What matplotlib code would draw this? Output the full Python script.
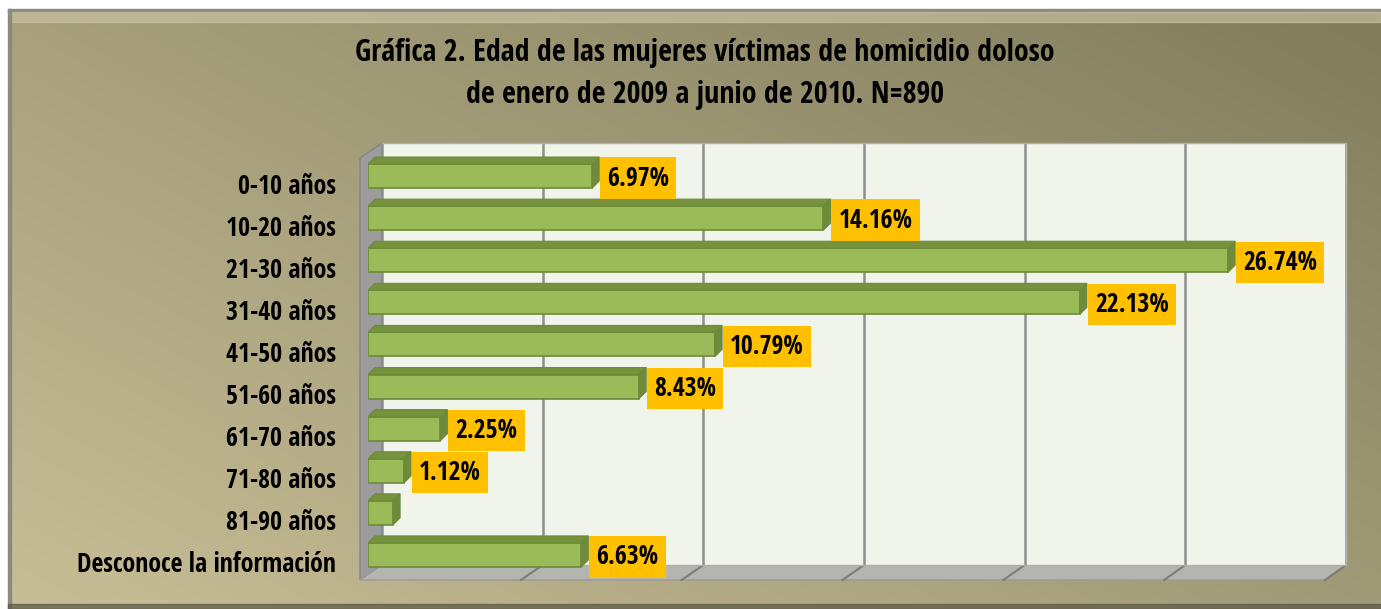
import numpy as np
import matplotlib
matplotlib.use("Agg")
import matplotlib.pyplot as plt
from matplotlib import font_manager
from matplotlib.font_manager import FontProperties
from matplotlib.patches import Polygon, Rectangle

categories = ["0-10 años", "10-20 años", "21-30 años", "31-40 años", "41-50 años",
              "51-60 años", "61-70 años", "71-80 años", "81-90 años", "Desconoce la información"]
values = [6.97, 14.16, 26.74, 22.13, 10.79, 8.43, 2.25, 1.12, 0.78, 6.63]
show_label = [True, True, True, True, True, True, True, True, False, True]
title_lines = ["Gráfica 2. Edad de las mujeres víctimas de homicidio doloso",
               "de enero de 2009 a junio de 2010. N=890"]


# ---- pick a bold, preferably condensed, font file ----
def _wt(f):
    w = f.weight
    if isinstance(w, str):
        return 700 if "bold" in w.lower() else 400
    return int(w)


def pick_font():
    entries = font_manager.fontManager.ttflist
    tests = [
        lambda f: f.name == "Liberation Sans Narrow" and _wt(f) >= 700 and f.style == "normal",
        lambda f: "Condensed" in f.name and _wt(f) >= 700 and f.style == "normal"
        and any(k in f.name for k in ("Roboto", "Open Sans", "Noto Sans", "DejaVu Sans")),
        lambda f: f.stretch in ("condensed", "semi-condensed") and _wt(f) >= 700
        and f.style == "normal" and f.name in ("DejaVu Sans", "Roboto", "Open Sans", "Noto Sans"),
        lambda f: f.name == "Liberation Sans" and _wt(f) >= 700 and f.style == "normal",
    ]
    for tst in tests:
        for f in entries:
            try:
                if tst(f):
                    return f.fname
            except Exception:
                pass
    return None


FONT_FILE = pick_font()

W, H = 1381, 609
fig = plt.figure(figsize=(W / 100, H / 100), dpi=100)
fig.patch.set_facecolor("white")
renderer = fig.canvas.get_renderer()


def fprop(size):
    if FONT_FILE:
        return FontProperties(fname=FONT_FILE, size=size)
    return FontProperties(family="DejaVu Sans", weight="bold", size=size)


def fit_size(sample, target_px, max_size):
    p = fprop(10)
    w, _, _ = renderer.get_text_width_height_descent(sample, p, ismath=False)
    return min(max_size, 10 * target_px / w)


cat_size = fit_size("0-10 años", 98, 18.8)
lab_size = fit_size("26.74%", 74, 21.5)
title_size = fit_size(title_lines[0], 750, 21.5)

# ---- background (pixel coordinates) ----
bg = fig.add_axes([0, 0, 1, 1])
bg.set_xlim(0, W)
bg.set_ylim(H, 0)
bg.axis("off")
x0f, y0f = 8, 9
yy, xx = np.mgrid[0:1:200j, 0:1:400j]
t = 0.55 * xx + 0.45 * (1 - yy)
c1 = np.array([200, 190, 150]) / 255
c2 = np.array([128, 124, 92]) / 255
img = c1[None, None, :] * (1 - t[..., None]) + c2[None, None, :] * t[..., None]
bg.imshow(img, extent=(x0f, W, H, y0f), aspect="auto", zorder=0)
bg.add_patch(Rectangle((x0f, y0f), W - x0f, 3, color="#8a8a80", zorder=1))
bg.add_patch(Rectangle((x0f, y0f + 3), W - x0f, 10, color="#cfc8a6", alpha=0.6, zorder=1))
bg.add_patch(Rectangle((x0f, y0f), 3, H - y0f, color="#8a8a80", zorder=1))
bg.add_patch(Rectangle((x0f, H - 5), W - x0f, 5, color="#5a5644", alpha=0.7, zorder=1))

# ---- 3D walls ----
front_x0, front_x1, front_y = 360, 1325, 580
back_x0, back_x1, back_top, back_bot = 382, 1346, 143, 565
bg.add_patch(Polygon([(front_x0, 158), (back_x0, back_top), (back_x0, back_bot), (front_x0, front_y)],
                     closed=True, fc="#9c9c9c", ec="#858585", lw=1, zorder=2))
bg.add_patch(Polygon([(front_x0, front_y), (back_x0, back_bot), (back_x1, back_bot), (front_x1, front_y)],
                     closed=True, fc="#b3b5ae", ec="#9a9a9a", lw=1, zorder=2))

wall = fig.add_axes([back_x0 / W, (H - back_bot) / H, (back_x1 - back_x0) / W, (back_bot - back_top) / H])
wall.set_facecolor("#f1f4ea")
wall.set_xlim(0, 30)
wall.set_ylim(0, 1)
wall.set_xticks(np.arange(0, 31, 5))
wall.set_yticks([])
wall.tick_params(length=0, labelbottom=False)
wall.grid(axis="x", color="#8e8e8e", lw=1.8)
for s in wall.spines.values():
    s.set_color("#b0b0b0")
    s.set_linewidth(1)
wall.spines["left"].set_visible(False)

sx_front = (front_x1 - front_x0) / 30
sx_back = (back_x1 - back_x0) / 30
for v in np.arange(5, 31, 5):
    bg.plot([front_x0 + v * sx_front, back_x0 + v * sx_back], [front_y, back_bot],
            color="#7c7c7c", lw=1.5, zorder=3)

# ---- bars ----
ax = fig.add_axes([368 / W, (H - 576) / H, 965 / W, 421 / H])
ax.patch.set_alpha(0)
ax.set_xlim(0, 30)
ax.set_ylim(len(categories) - 0.5, -0.5)
ax.axis("off")

px_x = 965 / 30
px_y = 421 / len(categories)
dx = 7 / px_x
dy = 7 / px_y
h = 0.57
front_c, top_c, side_c, edge_c = "#9bbb59", "#76923c", "#6e8a3a", "#6d8a38"

for i, (cat, v, show) in enumerate(zip(categories, values, show_label)):
    ax.barh(i, v, height=h, color=front_c, edgecolor=edge_c, lw=1.2, zorder=3)
    top = [(0, i - h / 2), (v, i - h / 2), (v + dx, i - h / 2 - dy), (dx, i - h / 2 - dy)]
    side = [(v, i - h / 2), (v + dx, i - h / 2 - dy), (v + dx, i + h / 2 - dy), (v, i + h / 2)]
    ax.add_patch(Polygon(top, closed=True, fc=top_c, ec=edge_c, lw=0.8, zorder=3))
    ax.add_patch(Polygon(side, closed=True, fc=side_c, ec=edge_c, lw=0.8, zorder=3))
    if show:
        ax.annotate(f"{v:.2f}%", xy=(v + dx, i), xytext=(8, 1), textcoords="offset pixels",
                    ha="left", va="center_baseline", fontproperties=fprop(lab_size),
                    color="black", zorder=5,
                    bbox=dict(boxstyle="square,pad=0.28", fc="#ffc000", ec="none"))
    ax.annotate(cat, xy=(0, i), xytext=(-32, -7), textcoords="offset pixels",
                ha="right", va="center_baseline", fontproperties=fprop(cat_size),
                color="black", annotation_clip=False)

fig.text(705 / W, 1 - 50 / H, title_lines[0], ha="center", va="center_baseline",
         fontproperties=fprop(title_size), color="black")
fig.text(705 / W, 1 - 91 / H, title_lines[1], ha="center", va="center_baseline",
         fontproperties=fprop(title_size), color="black")

fig.savefig("out.png", dpi=100, facecolor="white")
